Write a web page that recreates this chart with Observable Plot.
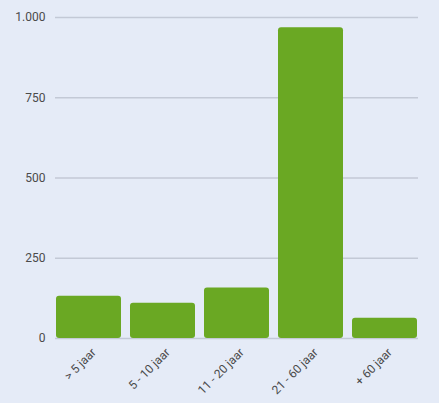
<!DOCTYPE html>
<html>
<head>
<meta charset="utf-8">
<script src="https://cdn.jsdelivr.net/npm/d3@7"></script>
<script src="https://cdn.jsdelivr.net/npm/@observablehq/plot@0.6"></script>
<style>
  html, body { margin: 0; padding: 0; background: #e5ebf7; }
  #chart { width: 439px; height: 403px; }
</style>
</head>
<body>
<div id="chart"></div>
<script>
const categories = ["> 5 jaar", "5 - 10 jaar", "11 - 20 jaar", "21 - 60 jaar", "+ 60 jaar"];
const values = [132, 110, 157, 968, 63];
const yTicks = [0, 250, 500, 750, 1000];

const data = categories.map((c, i) => ({cat: c, value: values[i]}));
const fmt = d => d >= 1000 ? d3.format(",")(d).replace(/,/g, ".") : String(d);

const chart = Plot.plot({
  width: 439,
  height: 403,
  marginLeft: 55,
  marginRight: 21,
  marginTop: 17,
  marginBottom: 65,
  style: {background: "#e5ebf7", fontFamily: "Roboto, sans-serif", fontSize: "12px", color: "#444"},
  x: {domain: categories, paddingInner: 0.12, paddingOuter: 0, label: null},
  y: {domain: [0, 1000], ticks: yTicks, label: null},
  marks: [
    Plot.gridY(yTicks, {stroke: "#c3c9d6", strokeOpacity: 1, strokeWidth: 1.5}),
    Plot.axisY(yTicks, {tickSize: 0, tickPadding: 10, tickFormat: fmt, fill: "#4a4a4a", fontSize: 12}),
    Plot.axisX({tickSize: 0, tickRotate: -45, tickPadding: 6, dx: 5, dy: 6, fill: "#4a4a4a", fontSize: 12}),
    Plot.barY(data, {x: "cat", y: "value", fill: "#6aa823", rx: 3})
  ]
});
document.getElementById("chart").appendChild(chart);
</script>
</body>
</html>
